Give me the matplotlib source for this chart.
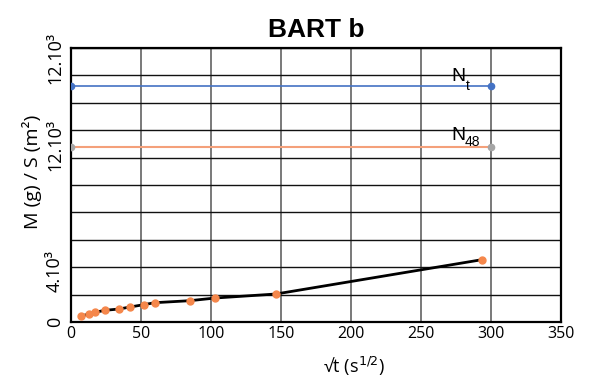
"""BART b: mass per surface against square root of time."""

import matplotlib
matplotlib.use('Agg')
import matplotlib.pyplot as plt

# measured points (sqrt(t), M/S)
sqrt_t = [7.1, 13.1, 17.1, 24.3, 34.5, 42.1, 51.9, 59.8, 84.8, 103.1, 146.4, 293.4]
mass_s = [438, 584, 708, 854, 949, 1095, 1263, 1409, 1555, 1752, 2044, 4547]

# reference levels
level_x = [0, 300]
n_t = [17200, 17200]
n_48 = [12770, 12770]

x_ticks = [0, 50, 100, 150, 200, 250, 300, 350]
y_tick_pos = [0, 3700, 12900, 19270]
y_tick_labels = ['0', '4.10³', '12.10³', '12.10³']

plt.rcParams['font.family'] = ['Open Sans', 'DejaVu Sans']

fig = plt.figure(figsize=(5.9, 3.83), dpi=100)
ax = fig.add_axes([71 / 590, 1 - 322 / 383, 490 / 590, 274 / 383])

# grid
for x in range(0, 351, 50):
    ax.axvline(x, color='#555555', lw=1.1, zorder=1)
for y in range(0, 20001, 2000):
    ax.axhline(y, color='#111111', lw=1.0, zorder=1)

ax.plot(level_x, n_t, color='#4472C4', lw=1.2, zorder=3)
ax.plot(level_x, n_t, 'o', color='#4472C4', ms=4.5, zorder=4)
ax.plot(level_x, n_48, color='#F4A07A', lw=1.5, zorder=3)
ax.plot(level_x, n_48, 'o', color='#A5A5A5', ms=4.5, zorder=4)

ax.plot(sqrt_t, mass_s, color='black', lw=2.0, zorder=3)
ax.plot(sqrt_t, mass_s, 'o', color='#F5874B', ms=5, zorder=4)

ax.text(272, 17590, 'N', fontsize=14, family='Liberation Sans', zorder=5)
ax.text(282, 16950, 't', fontsize=10, family='Liberation Sans', zorder=5)
ax.text(272, 13250, 'N', fontsize=14, family='Liberation Sans', zorder=5)
ax.text(281.5, 12850, '48', fontsize=10, family='Liberation Sans', zorder=5)

ax.set_xlim(0, 350)
ax.set_ylim(0, 20000)
ax.set_xticks(x_ticks)
ax.set_xticklabels([str(v) for v in x_ticks], fontsize=11.5)
ax.set_yticks(y_tick_pos)
ax.set_yticklabels(y_tick_labels, fontsize=13, rotation=90, va='center')
ax.tick_params(length=0, pad=3)
ax.tick_params(axis='y', pad=5)

for s in ax.spines.values():
    s.set_linewidth(1.6)
    s.set_color('black')

ax.set_title('BART b', fontsize=19, fontweight='bold', family='Liberation Sans', pad=8)
ax.set_xlabel('√t (s$^{1/2}$)', fontsize=13)
ax.set_ylabel('M (g) / S (m²)', fontsize=14)
ax.xaxis.set_label_coords(0.578, -0.12)
ax.yaxis.set_label_coords(-0.059, 0.547)

fig.savefig('out.png', dpi=100)
